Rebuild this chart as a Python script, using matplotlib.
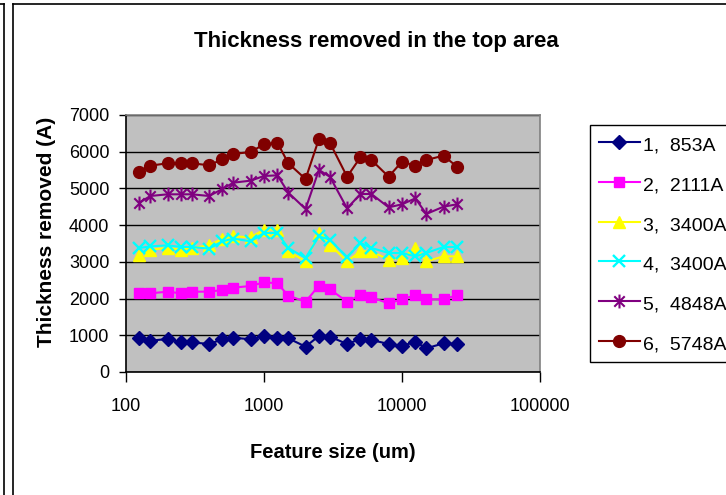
import matplotlib
matplotlib.use('Agg')
import matplotlib.pyplot as plt
from matplotlib.lines import Line2D
from matplotlib.path import Path

plt.rcParams['font.family'] = ['Liberation Sans', 'DejaVu Sans']

# feature sizes (um) and removed thickness (A) per run
sizes = [125, 150, 200, 250, 300, 400, 500, 600, 800, 1000, 1250, 1500, 2000,
         2500, 3000, 4000, 5000, 6000, 8000, 10000, 12500, 15000, 20000, 25000]

run1 = [918, 853, 899, 808, 808, 763, 890, 935, 890, 981, 935, 918, 690,
        981, 963, 763, 899, 872, 763, 708, 826, 645, 781, 763]
run2 = [2143, 2143, 2188, 2143, 2188, 2188, 2234, 2297, 2343, 2443, 2416, 2079, 1915,
        2352, 2252, 1915, 2098, 2034, 1870, 1980, 2089, 1980, 1980, 2089]
run3 = [3196, 3332, 3378, 3332, 3378, 3450, 3632, 3695, 3668, 3877, 3877, 3286, 3014,
        3787, 3469, 3014, 3286, 3286, 3060, 3106, 3378, 3014, 3150, 3150]
run4 = [3378, 3422, 3450, 3405, 3405, 3359, 3559, 3632, 3559, 3787, 3787, 3378, 3106,
        3695, 3605, 3123, 3515, 3378, 3242, 3242, 3150, 3242, 3405, 3405]
run5 = [4612, 4794, 4840, 4840, 4840, 4794, 4985, 5157, 5212, 5339, 5357, 4885, 4440,
        5503, 5320, 4458, 4849, 4849, 4485, 4567, 4730, 4304, 4503, 4567]
run6 = [5440, 5620, 5685, 5685, 5685, 5630, 5794, 5938, 5993, 6202, 6246, 5685, 5257,
        6347, 6246, 5320, 5849, 5775, 5320, 5730, 5620, 5775, 5893, 5593]

labels = ['1,  853A', '2,  2111A', '3,  3400A', '4,  3400A', '5,  4848A', '6,  5748A']

# excel style star: an x with a vertical bar through it
star = Path([(0, -1), (0, 1), (-0.75, -0.75), (0.75, 0.75), (-0.75, 0.75), (0.75, -0.75)],
            [Path.MOVETO, Path.LINETO, Path.MOVETO, Path.LINETO, Path.MOVETO, Path.LINETO])

styles = [
    dict(color='#000080', marker='D', ms=7.5),
    dict(color='#FF00FF', marker='s', ms=7.5),
    dict(color='#FFFF00', marker='^', ms=8.5),
    dict(color='#00FFFF', marker='x', ms=8.5, mew=1.7),
    dict(color='#800080', marker=star, ms=10, mew=1.5),
    dict(color='#800000', marker='o', ms=8.5),
]

fig = plt.figure(figsize=(7.26, 4.95), dpi=100)
ax = fig.add_axes([126/726, 1-372/495, 414/726, 257/495])
ax.set_facecolor('#C0C0C0')

for vals, lab, st in zip([run1, run2, run3, run4, run5, run6], labels, styles):
    ax.plot(sizes, vals, lw=1.5, label=lab, **st)

ax.set_xscale('log')
ax.set_xlim(100, 100000)
ax.set_ylim(0, 7000)
ax.set_xticks([100, 1000, 10000, 100000])
ax.set_xticklabels(['100', '1000', '10000', '100000'])
ax.xaxis.set_minor_locator(matplotlib.ticker.NullLocator())
ax.set_yticks(range(0, 7001, 1000))
ax.tick_params(axis='y', direction='out', length=5, width=1, labelsize=13, pad=7)
ax.tick_params(axis='x', direction='out', length=7, width=1, labelsize=13, pad=12)
ax.yaxis.grid(True, color='black', lw=1)
ax.set_axisbelow(True)

ax.spines['left'].set_color('black')
ax.spines['bottom'].set_color('black')
ax.spines['top'].set_color('#808080')
ax.spines['right'].set_color('#808080')
for s in ax.spines.values():
    s.set_linewidth(1.2)

fig.text(376/726, 1-41/495, 'Thickness removed in the top area',
         ha='center', va='center', fontsize=16, fontweight='bold')
fig.text(47/726, 1-232/495, 'Thickness removed (A)', rotation=90,
         ha='center', va='center', fontsize=15, fontweight='bold')
fig.text(333/726, 1-452/495, 'Feature size (um)',
         ha='center', va='center', fontsize=14.5, fontweight='bold')

leg = ax.legend(loc='upper left', bbox_to_anchor=(590/726, 1-125/495),
                bbox_transform=fig.transFigure, fontsize=14, frameon=True,
                fancybox=False, framealpha=1, edgecolor='black',
                handlelength=2.1, handleheight=1.3, handletextpad=0.2,
                borderpad=0.45, labelspacing=0.95, borderaxespad=0)
leg.get_frame().set_linewidth(1)

# chart frame edges
fig.add_artist(Line2D([13/726, 13/726], [0, 1-4/495], color='black', lw=1.2))
fig.add_artist(Line2D([13/726, 1], [1-4/495, 1-4/495], color='black', lw=1.2))
fig.add_artist(Line2D([3.5/726, 3.5/726], [0, 1-4/495], color='black', lw=1.2))
fig.add_artist(Line2D([0, 3.5/726], [1-4/495, 1-4/495], color='black', lw=1.2))

fig.savefig('out.png', dpi=100)
